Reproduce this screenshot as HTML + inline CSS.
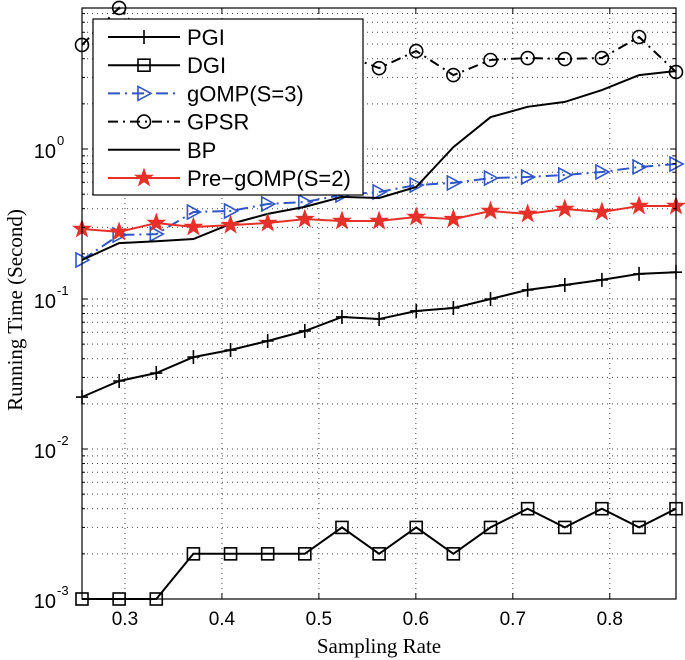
<!DOCTYPE html>
<html><head><meta charset="utf-8"><style>
html,body{margin:0;padding:0;background:#fff;}
svg{display:block;}
</style></head><body>
<svg id="chart" width="685" height="660" xmlns="http://www.w3.org/2000/svg">
<g id="grid"></g>
<g id="series"></g>
<g id="axes"></g>
<text x="379" y="653" text-anchor="middle" font-family="Liberation Serif, serif" font-size="21">Sampling Rate</text>
<text transform="translate(22,310) rotate(-90)" text-anchor="middle" font-family="Liberation Serif, serif" font-size="21">Running Time (Second)</text>
<g id="legend"></g>
</svg>
<script>
const xValues = [0.2557,0.294,0.3323,0.3706,0.4089,0.4472,0.4855,0.5238,0.5621,0.6004,0.6387,0.677,0.7153,0.7536,0.7919,0.8302,0.8683];
const pgi = [0.0222,0.0284,0.0321,0.041,0.0457,0.0525,0.0612,0.0759,0.0736,0.0832,0.0871,0.1,0.115,0.124,0.134,0.147,0.151];
const dgi = [0.001,0.001,0.001,0.002,0.002,0.002,0.002,0.003,0.002,0.003,0.002,0.003,0.004,0.003,0.004,0.003,0.004];
const gomp = [0.182,0.267,0.271,0.38,0.386,0.43,0.443,0.494,0.517,0.575,0.594,0.64,0.651,0.671,0.703,0.759,0.794];
const gpsr = [4.94,8.72,4.5,5.0,4.2,4.5,4.0,4.3,3.46,4.5,3.11,3.92,4.04,3.98,4.04,5.58,3.26];
const bp = [0.182,0.236,0.243,0.251,0.316,0.369,0.411,0.479,0.471,0.558,1.03,1.63,1.91,2.06,2.47,3.11,3.31];
const pregomp = [0.293,0.28,0.321,0.302,0.311,0.321,0.341,0.331,0.331,0.352,0.341,0.386,0.369,0.398,0.38,0.417,0.417];
const xTicks = [0.3,0.4,0.5,0.6,0.7,0.8];
const xTickLabels = ["0.3","0.4","0.5","0.6","0.7","0.8"];
const yDecades = [-3,-2,-1,0];

const L=82,R=676,T=8,B=599;
const X0=0.2557,X1=0.8683;
function sx(v){return L+(v-X0)/(X1-X0)*(R-L);}
function sy(v){return 599-(Math.log10(v)+3)*150;}
const NS="http://www.w3.org/2000/svg";
function mk(tag,attrs,parent){const e=document.createElementNS(NS,tag);for(const k in attrs)e.setAttribute(k,attrs[k]);parent.appendChild(e);return e;}
const grid=document.getElementById('grid'),axes=document.getElementById('axes'),ser=document.getElementById('series'),leg=document.getElementById('legend');
mk('rect',{x:L,y:T,width:R-L,height:B-T,fill:'#fff'},grid);
xTicks.forEach((t,i)=>{
  const x=sx(t);
  const g=mk('line',{x1:x,x2:x,y1:T,y2:B,stroke:'#444','stroke-width':1,'stroke-dasharray':'1,4'},grid);
  
  
  mk('line',{x1:x,x2:x,y1:B,y2:B-6,stroke:'#000'},axes);
  mk('line',{x1:x,x2:x,y1:T,y2:T+6,stroke:'#000'},axes);
  const tl=mk('text',{x:x,y:625,'text-anchor':'middle','font-family':'Liberation Sans, sans-serif','font-size':19},axes);
  tl.textContent=xTickLabels[i];
  
  
});
for(let d=-3;d<=0;d++){
  for(let m=1;m<=9;m++){
    const v=m*Math.pow(10,d);const y=sy(v);
    if(y<T)continue;
    if(!(d===-3&&m===1)){
      const g=mk('line',{x1:L,x2:R,y1:y,y2:y,stroke:'#444','stroke-width':1,'stroke-dasharray':'1,4'},grid);
      
      
    }
    const len=m===1?6:3;
    mk('line',{x1:L,x2:L+len,y1:y,y2:y,stroke:'#000'},axes);
    mk('line',{x1:R,x2:R-len,y1:y,y2:y,stroke:'#000'},axes);
  }
}
yDecades.forEach(d=>{
  const y=sy(Math.pow(10,d));
  const t=mk('text',{x:56,y:y+9,'text-anchor':'end','font-family':'Liberation Sans, sans-serif','font-size':20},axes);
  t.textContent='10';
  
  
  const s=mk('text',{x:57,y:y-4,'font-family':'Liberation Sans, sans-serif','font-size':13},axes);
  s.textContent=String(d);
  
  
});
mk('rect',{x:L,y:T,width:R-L,height:B-T,fill:'none',stroke:'#000','stroke-width':1.2},axes);

function marker(type,x,y,color,p){
  if(type==='plus'){mk('path',{d:`M${x-6},${y}H${x+6}M${x},${y-7}V${y+7}`,stroke:color,'stroke-width':1.6,fill:'none'},p);}
  else if(type==='square'){mk('rect',{x:x-6,y:y-6,width:12,height:12,fill:'none',stroke:color,'stroke-width':1.6},p);}
  else if(type==='tri'){mk('path',{d:`M${x-6},${y-7}L${x+7},${y}L${x-6},${y+7}Z`,fill:'none',stroke:color,'stroke-width':1.6},p);}
  else if(type==='circle'){mk('circle',{cx:x,cy:y,r:6.5,fill:'none',stroke:color,'stroke-width':1.6},p);}
  else if(type==='star'){let d='';for(let i=0;i<10;i++){const r=i%2?3.6:9;const a=-Math.PI/2+i*Math.PI/5;d+=(i?'L':'M')+(x+r*Math.cos(a)).toFixed(1)+','+(y+r*Math.sin(a)).toFixed(1);}mk('path',{d:d+'Z',fill:color,stroke:color,'stroke-width':1},p);}
}
const specs=[
 {name:'PGI',data:pgi,color:'#000',dash:'',m:'plus',id:'pgi'},
 {name:'DGI',data:dgi,color:'#000',dash:'',m:'square',id:'dgi'},
 {name:'gOMP(S=3)',data:gomp,color:'#2f55c8',dash:'12,5,2,5',m:'tri',id:'gomp'},
 {name:'GPSR',data:gpsr,color:'#000',dash:'10,5,2,5',m:'circle',id:'gpsr'},
 {name:'BP',data:bp,color:'#000',dash:'',m:null,id:'bp'},
 {name:'Pre\u2212gOMP(S=2)',data:pregomp,color:'#e8302a',dash:'',m:'star',id:'pregomp'}
];
specs.forEach(s=>{
  const g=mk('g',{},ser);
  
  
  const pts=s.data.map((v,i)=>sx(xValues[i]).toFixed(1)+','+sy(v).toFixed(1)).join(' ');
  const pl=mk('polyline',{points:pts,fill:'none',stroke:s.color,'stroke-width':2,'stroke-dasharray':s.dash},g);
  
  
  if(s.m)s.data.forEach((v,i)=>marker(s.m,sx(xValues[i]),sy(v),s.color,g));
});
const lb=mk('rect',{x:93,y:19,width:270,height:176,fill:'#fff',stroke:'#000','stroke-width':1.2},leg);


specs.forEach((s,i)=>{
  const y=37+i*28.2;
  const g=mk('g',{},leg);
  
  
  mk('line',{x1:108,x2:180,y1:y,y2:y,stroke:s.color,'stroke-width':2,'stroke-dasharray':s.dash},g);
  if(s.m)marker(s.m,144,y,s.color,g);
  const t=mk('text',{x:187,y:y+8,'font-family':'Liberation Sans, sans-serif','font-size':22},g);
  t.textContent=s.name;
});
</script>
</body></html>
